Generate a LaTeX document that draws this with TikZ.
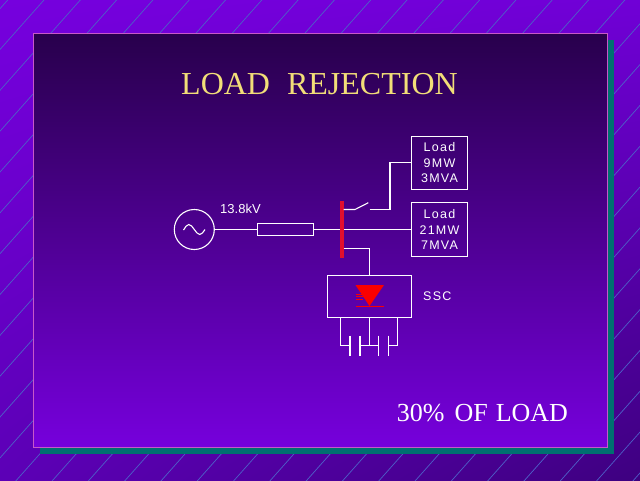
\documentclass[tikz,border=0pt]{standalone}
\usepackage{fontspec}
\setmainfont{Liberation Serif}
\newfontfamily\sansf{Liberation Sans}
\newfontfamily\sanssp{Liberation Sans}[LetterSpace=10]
\usetikzlibrary{calc,shadings}
\definecolor{bgtl}{RGB}{118,0,222}
\definecolor{bgtr}{RGB}{112,0,214}
\definecolor{bgbl}{RGB}{92,0,182}
\definecolor{bgbr}{RGB}{62,0,128}
\definecolor{hatchc}{RGB}{78,96,200}
\definecolor{pantop}{RGB}{40,0,76}
\definecolor{panbot}{RGB}{118,0,220}
\definecolor{panborder}{RGB}{200,88,200}
\definecolor{shadowteal}{RGB}{0,112,112}
\definecolor{titleyellow}{RGB}{242,222,120}
\definecolor{busred}{RGB}{225,15,45}
\definecolor{diodered}{RGB}{250,0,0}
\begin{document}
\begin{tikzpicture}[x=1pt,y=-1pt,
  wire/.style={draw=white, line width=1.1pt},
  hatch/.style={draw=hatchc, line width=0.7pt},
  box/.style={draw=white, line width=1.1pt, inner sep=0pt},
  loadbox/.style={box, minimum width=55.6pt, minimum height=53.3pt, align=center,
    text=white, font=\sanssp\fontsize{12.5}{15.8}\selectfont},
  lbl/.style={text=white, inner sep=0pt}]
\useasboundingbox (0,0) rectangle (640,480);
% background
\shade[upper left=bgtl, upper right=bgtr, lower left=bgbl, lower right=bgbr] (0,0) rectangle (640,480);
\begin{scope}
  \clip (0,0) rectangle (640,480);
  \foreach \k in {-2,...,32} {
    \draw[hatch] ({44+36.3*\k+60},{-60*1.125}) -- ++(-620,{620*1.125});
  }
\end{scope}
% panel
\fill[shadowteal] (39.5,39.5) rectangle (614,454);
\shadedraw[top color=pantop, bottom color=panbot, draw=panborder, line width=1.2pt]
  (33.5,33.5) rectangle (607.5,447.5);
% title
\node[anchor=base, text=titleyellow, inner sep=0pt, font=\fontsize{32}{38}\selectfont]
  (title) at (319.5,94.3) {LOAD\hspace{17pt}REJECTION};
% circuit nodes
\node[circle, draw=white, line width=1.1pt, minimum size=40pt, inner sep=0pt] (gen) at (194.3,229.5) {};
\node[box, minimum width=56pt, minimum height=12pt] (res) at (285.5,229.5) {};
\node[fill=busred, minimum width=3.6pt, minimum height=57pt, inner sep=0pt] (bus) at (341.7,229.2) {};
\node[loadbox] (load1) at (439.5,162.7) {Load\\9MW\\3MVA};
\node[loadbox] (load2) at (439.5,229.5) {Load\\21MW\\7MVA};
\node[box, minimum width=84.4pt, minimum height=42.3pt] (ssc) at (369.5,296.2) {};
% labels
\node[lbl, anchor=base west, font=\sansf\fontsize{13}{15}\selectfont] (kv) at (220,213.3) {13.8kV};
\node[lbl, anchor=base west, font=\sanssp\fontsize{12.5}{15}\selectfont] (ssclbl) at (423,300) {SSC};
\node[lbl, anchor=base west, font=\fontsize{26}{30}\selectfont] (pct) at (396.7,421.7) {30\%\hspace{10pt}OF\hspace{8pt}LOAD};
% generator sine
\draw[wire] (183.5,230) sin (188.8,224.5) cos (194.3,229.5) sin (199.8,234.5) cos (205,229.5);
% coordinates
\coordinate (swa) at (355,209.5);
\coordinate (swb) at (368.3,202.7);
\coordinate (swc) at (369.5,209.5);
\coordinate (swd) at (390,209.5);
\coordinate (tap) at (369.5,248.5);
\coordinate (cl) at (340.7,345.5);
\coordinate (cm) at (369.5,345.5);
\coordinate (cr) at (397.3,345.5);
\coordinate (p1) at (350,345.5);
\coordinate (p2) at (360,345.5);
\coordinate (p3) at (378.5,345.5);
\coordinate (p4) at (388.5,345.5);
% wires
\draw[wire] (gen.east) -- (res.west);
\draw[wire] (res.east) -- (res.east -| bus.west);
\draw[wire] (bus.east |- load2.west) -- (load2.west);
\draw[wire] (bus.east |- swa) -- (swa) -- (swb);
\draw[wire] (swc) -- (swd) |- (load1.west);
\draw[wire] (bus.east |- tap) -- (tap) -- (ssc.north);
% diode symbol
\fill[diodered] (355.5,285) -- (384,285) -- (369.5,306) -- cycle;
\draw[diodered, line width=1.1pt] (355.5,306.7) -- (384,306.7);
\foreach \yy in {294,296.8,299.6} \draw[diodered, line width=0.7pt] (356,\yy) -- (363,\yy);
% capacitors
\draw[wire] (ssc.south -| cl) -- (cl) -- (p1);
\draw[wire] (p2) -- (p3);
\draw[wire] (ssc.south) -- (cm);
\draw[wire] (p4) -- (cr) -- (ssc.south -| cr);
\foreach \p in {p1,p2,p3,p4} \draw[wire] ($(\p)+(0,-10)$) -- ($(\p)+(0,10)$);
\end{tikzpicture}
\end{document}
